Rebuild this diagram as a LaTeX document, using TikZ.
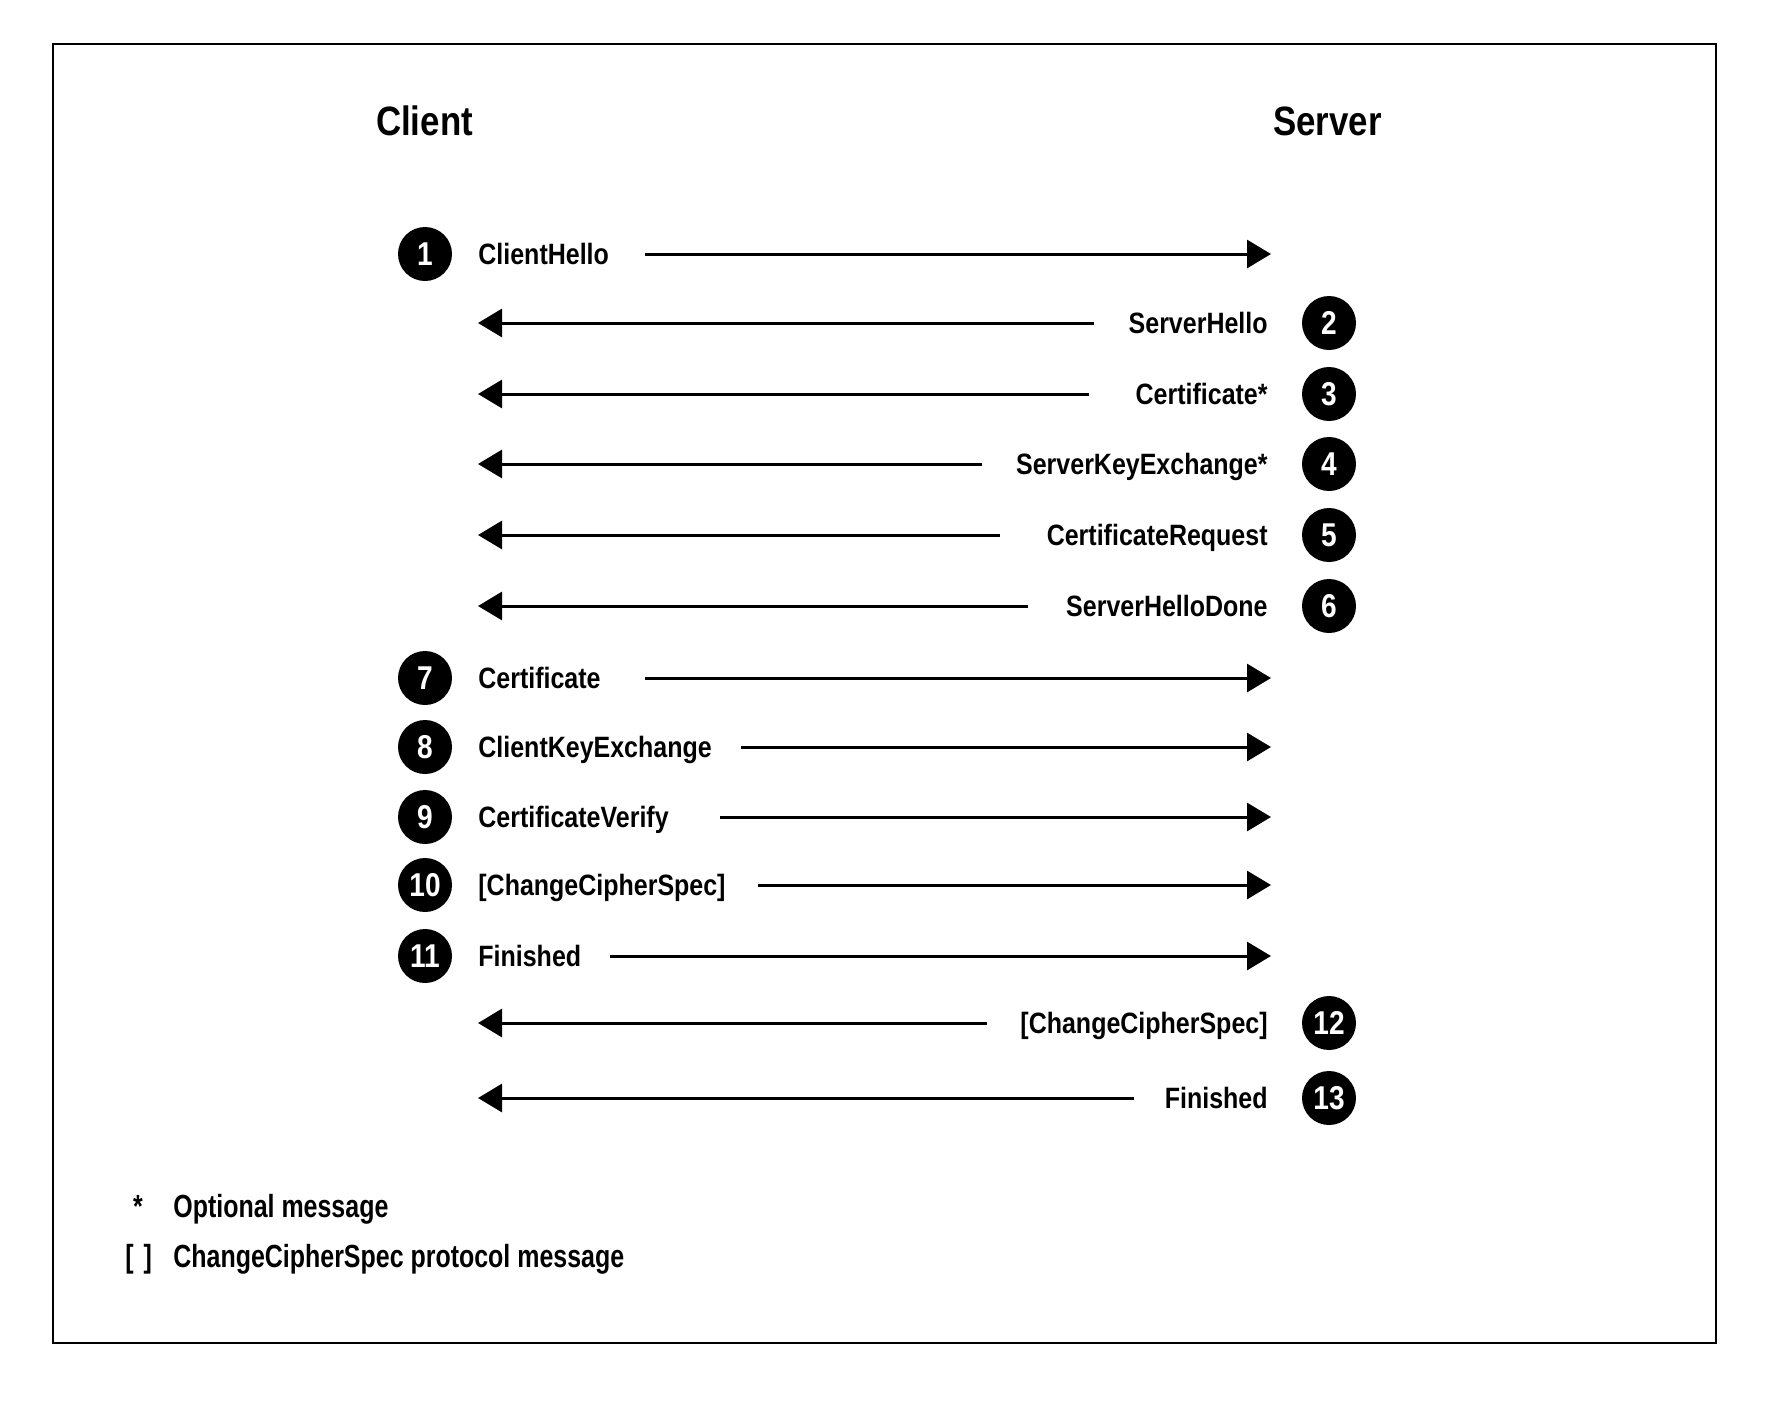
\documentclass[tikz,border=0pt]{standalone}
\usepackage{fontspec}
\newfontfamily\cond[FakeStretch=0.85]{Liberation Sans}
\newfontfamily\condfoot[FakeStretch=0.78]{Liberation Sans}
\usetikzlibrary{arrows.meta}
\begin{document}
\begin{tikzpicture}[x=0.5pt,y=-0.5pt,
  lbl/.style={inner sep=0pt,font=\cond\bfseries\fontsize{14.7pt}{16pt}\selectfont},
  ttl/.style={inner sep=0pt,anchor=base,font=\cond\bfseries\fontsize{20.5pt}{24pt}\selectfont},
  foot/.style={inner sep=0pt,anchor=base west,font=\condfoot\bfseries\fontsize{16pt}{18pt}\selectfont},
  num/.style={circle,fill=black,minimum size=27pt,inner sep=0pt,text=white,font=\cond\bfseries\fontsize{16.5pt}{18pt}\selectfont},
  msg/.style={line width=1.5pt,-{Triangle[length=12pt,width=14pt]}}]
\useasboundingbox (0,0) rectangle (1782,1404);
\draw[line width=1.25pt] (53,44) rectangle (1716,1343);
\node[ttl] (client) at (424.5,135) {Client};
\node[ttl] (server) at (1327.5,135) {Server};
% left-to-right messages
\foreach \n/\y/\s/\t in {1/254/645/ClientHello,7/678/645/Certificate,8/747/741/ClientKeyExchange,9/817/720/CertificateVerify,10/885/758/[ChangeCipherSpec],11/956/610/Finished}{
  \node[num] (c\n) at (425,\y) {\n};
  \node[lbl,anchor=base west] (l\n) at (478,\y+10.5) {\t};
  \coordinate (s\n) at (\s,\y);
  \coordinate (e\n) at (1271,\y);
  \draw[msg] (s\n) -- (e\n);
}
% right-to-left messages
\foreach \n/\y/\s/\t in {2/323/1094/ServerHello,3/394/1089/Certificate*,4/464/982/ServerKeyExchange*,5/535/1000/CertificateRequest,6/606/1028/ServerHelloDone,12/1023/987/[ChangeCipherSpec],13/1098/1134/Finished}{
  \node[num] (c\n) at (1329,\y) {\n};
  \node[lbl,anchor=base east] (l\n) at (1268,\y+10.5) {\t};
  \coordinate (s\n) at (\s,\y);
  \coordinate (e\n) at (478,\y);
  \draw[msg] (s\n) -- (e\n);
}
\node[foot,anchor=base] (star) at (138,1217) {*};
\node[foot] (opt) at (173,1217) {Optional message};
\node[foot] (brk) at (125,1267) {[\hspace{5pt}]};
\node[foot] (ccs) at (173,1267) {ChangeCipherSpec protocol message};
\end{tikzpicture}
\end{document}
